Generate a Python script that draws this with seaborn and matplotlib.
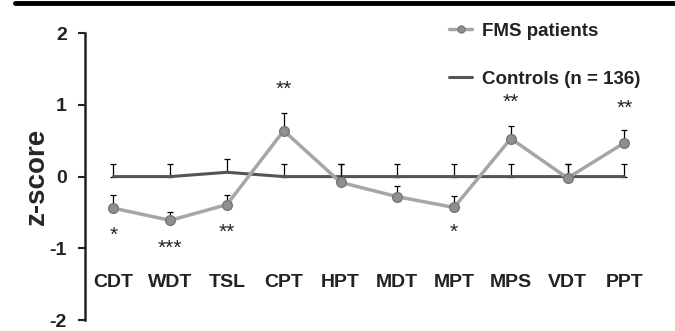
import numpy as np
import pandas as pd
import matplotlib
matplotlib.use("Agg")
import matplotlib.pyplot as plt
from matplotlib.lines import Line2D
import seaborn as sns

# --- Dane ---
tests = ["CDT", "WDT", "TSL", "CPT", "HPT", "MDT", "MPT", "MPS", "VDT", "PPT"]
fms_mean = [-0.44, -0.61, -0.39, 0.64, -0.08, -0.28, -0.43, 0.53, -0.02, 0.47]
fms_err = [0.19, 0.12, 0.14, 0.25, 0.25, 0.15, 0.16, 0.18, 0.19, 0.18]
ctrl_mean = [0.0, 0.0, 0.06, 0.0, 0.0, 0.0, 0.0, 0.0, 0.0, 0.0]
ctrl_err = [0.17, 0.17, 0.19, 0.17, 0.17, 0.17, 0.17, 0.17, 0.17, 0.17]
stars = ["*", "***", "**", "**", "", "", "*", "**", "", "**"]
star_y = [-0.82, -1.0, -0.78, 1.22, 0, 0, -0.78, 1.04, 0, 0.95]

sns.set_style("ticks")
plt.rcParams["font.family"] = ["Liberation Sans", "DejaVu Sans"]
plt.rcParams["font.weight"] = "bold"

df = pd.DataFrame({"x": np.arange(len(tests)), "fms": fms_mean, "ctrl": ctrl_mean})

fig = plt.figure(figsize=(6.75, 3.31), dpi=100)
ax = fig.add_axes([0.126, 0.033, 0.841, 0.867])

# kontrole
ax.errorbar(df["x"], ctrl_mean, yerr=[np.zeros(len(tests)), ctrl_err], fmt="none",
            ecolor="black", elinewidth=0.9, capsize=2.5, capthick=0.9, zorder=1)
sns.lineplot(data=df, x="x", y="ctrl", color="#555555", lw=2.2, ax=ax, zorder=2,
             label="Controls (n = 136)")

# pacjenci FMS
ax.errorbar(df["x"], fms_mean, yerr=[np.zeros(len(tests)), fms_err], fmt="none",
            ecolor="black", elinewidth=0.9, capsize=2.5, capthick=0.9, zorder=3)
sns.lineplot(data=df, x="x", y="fms", color="#a6a6a6", lw=2.5, marker="o",
             markersize=7, markerfacecolor="#8f8f8f", markeredgecolor="#777777",
             markeredgewidth=1.0, ax=ax, zorder=4, label="FMS patients")

for i, s in enumerate(stars):
    if s:
        ax.text(i, star_y[i], s, ha="center", va="center", fontsize=15,
                fontweight="normal", color="#222222")

for i, t in enumerate(tests):
    ax.text(i, -1.47, t, ha="center", va="center", fontsize=14, fontweight="bold",
            color="#222222")

ax.set_xlim(-0.5, 9.5)
ax.set_ylim(-2, 2)
ax.set_yticks([-2, -1, 0, 1, 2])
ax.set_yticklabels(["-2", "-1", "0", "1", "2"], fontsize=14, fontweight="bold")
ax.set_xticks([])
ax.set_xlabel("")
ax.set_ylabel("z-score", fontsize=20, fontweight="bold", labelpad=0)
ax.tick_params(axis="y", length=5, width=1.5, direction="out", colors="#222222", pad=8)
for side in ["top", "right", "bottom"]:
    ax.spines[side].set_visible(False)
ax.spines["left"].set_linewidth(1.8)
ax.spines["left"].set_color("#222222")

handles, labels = ax.get_legend_handles_labels()
order = [labels.index("FMS patients"), labels.index("Controls (n = 136)")]
leg = ax.legend([handles[k] for k in order], [labels[k] for k in order],
                loc="upper left", bbox_to_anchor=(0.612, 1.095), frameon=False,
                prop={"size": 13.5, "weight": "bold"}, handlelength=1.2,
                labelspacing=1.65, handletextpad=0.55)
for h in leg.legend_handles:
    h.set_markersize(5)
for txt in leg.get_texts():
    txt.set_color("#222222")

# czarna linia u góry
fig.add_artist(Line2D([0.022, 1.0], [0.99, 0.99], transform=fig.transFigure,
                      color="black", lw=3.5))

fig.savefig("out.png", dpi=100)
